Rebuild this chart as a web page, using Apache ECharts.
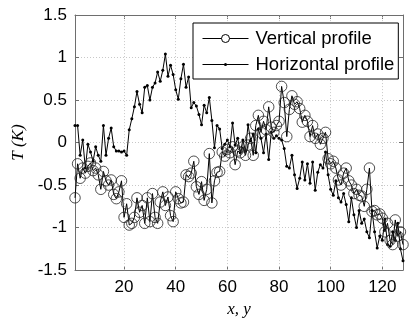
<!DOCTYPE html>
<html><head><meta charset="utf-8">
<script src="https://cdn.jsdelivr.net/npm/echarts@6/dist/echarts.min.js"></script>
<style>html,body{margin:0;padding:0;background:#fff}#c{width:411px;height:323px}</style>
</head><body><div id="c"></div>
<script>
const xTicks = [20, 40, 60, 80, 100, 120];
const yTicks = [-1.5, -1, -0.5, 0, 0.5, 1, 1.5];
const verticalProfile = [
 -0.65,-0.25,-0.42,-0.30,-0.36,-0.28,-0.24,-0.33,-0.30,-0.38,
 -0.55,-0.34,-0.45,-0.50,-0.44,-0.61,-0.66,-0.58,-0.45,-0.88,
 -0.72,-0.97,-0.95,-0.88,-0.65,-0.82,-0.74,-0.95,-0.65,-0.93,
 -0.60,-0.88,-0.95,-0.70,-0.58,-0.74,-0.64,-0.86,-0.93,-0.58,
 -0.66,-0.71,-0.70,-0.38,-0.40,-0.36,-0.22,-0.52,-0.61,-0.46,
 -0.68,-0.55,-0.13,-0.71,-0.45,-0.35,-0.34,-0.11,-0.16,-0.08,
 -0.12,-0.05,-0.26,-0.10,-0.12,-0.05,-0.15,-0.03,0.05,-0.15,
 0.20,0.32,0.12,0.25,0.15,0.42,0.18,0.12,0.20,0.25,
 0.66,0.47,0.07,0.39,0.55,0.45,0.48,0.40,0.24,0.32,
 0.25,0.07,0.20,0.05,0.10,-0.02,0.05,0.12,-0.19,-0.25,
 -0.22,-0.30,-0.44,-0.50,-0.36,-0.30,-0.45,-0.50,-0.60,-0.55,
 -0.62,-0.63,-0.75,-0.55,-0.30,-0.81,-0.80,-0.85,-0.84,-0.89,
 -1.05,-0.95,-1.15,-1.20,-0.91,-1.10,-1.05,-1.20
];
const horizontalProfile = [
 0.20,0.20,-0.15,0.03,-0.30,-0.02,-0.11,-0.22,-0.05,-0.15,
 -0.22,0.20,-0.15,0.05,0.17,-0.05,-0.10,-0.10,-0.11,-0.10,
 -0.15,0.15,0.28,0.42,0.60,0.45,0.35,0.65,0.67,0.50,
 0.65,0.70,0.83,0.72,0.85,1.04,0.78,0.91,0.80,0.62,
 0.51,0.75,0.92,0.65,0.77,0.41,0.47,0.43,0.33,0.21,
 0.44,0.35,0.53,0.26,-0.06,0.20,0.16,-0.07,-0.02,0.03,
 -0.05,0.23,-0.03,0.05,-0.12,0.03,-0.10,0.21,0.02,0.10,
 -0.12,0.16,0.05,-0.12,0.10,-0.20,0.12,0.05,0.08,0.05,
 0.03,-0.07,-0.28,-0.30,-0.15,-0.38,-0.54,-0.42,-0.23,-0.44,
 -0.25,-0.48,-0.23,-0.56,-0.35,-0.26,-0.30,-0.11,-0.38,-0.55,
 -0.62,-0.45,-0.65,-0.70,-0.60,-0.73,-0.93,-0.65,-0.85,-1.00,
 -0.80,-0.95,-0.90,-1.05,-1.12,-0.80,-1.05,-1.24,-1.10,-1.15,
 -0.90,-1.20,-1.22,-1.05,-1.15,-0.95,-1.25,-1.39
];
const seriesNames = ['Vertical profile', 'Horizontal profile'];

const vData = verticalProfile.map((v, i) => [i + 1, v]);
const hData = horizontalProfile.map((v, i) => [i + 1, v]);

const axisCol = '#6e6e6e';
const gridStyle = {color: '#c8c8c8', type: [1, 2], width: 1};
const tickFont = {fontFamily: 'Liberation Sans, Arial', fontSize: 17, color: '#000'};
const nameFont = {fontFamily: 'Liberation Serif, Times New Roman', fontStyle: 'italic', fontSize: 17, color: '#000'};
const chart = echarts.init(document.getElementById('c'));
chart.setOption({
  animation: false,
  grid: {left: 75, right: 8, top: 15, bottom: 51, containLabel: false},
  legend: {
    orient: 'vertical', left: 193, top: 23,
    data: [
      {name: seriesNames[0], itemStyle: {color: '#fff', borderColor: '#000', borderWidth: 1},
       lineStyle: {width: 1, color: '#000'}},
      {name: seriesNames[1], icon: 'path://M0,0 M0,4.6 L46,4.6 L46,5.4 L0,5.4 Z M21.5,5 A1.5,1.5 0 1 1 24.5,5 A1.5,1.5 0 1 1 21.5,5 Z M46,10',
       itemStyle: {color: '#000', borderWidth: 0}}
    ],
    lineStyle: {width: 1},
    itemWidth: 46, itemHeight: 10, itemGap: 7,
    padding: [6, 4, 5, 9],
    borderColor: '#000', borderWidth: 1, backgroundColor: '#fff',
    textStyle: {fontFamily: 'Liberation Sans, Arial', fontSize: 18.5, color: '#000', padding: [0, 0, 0, 2]}
  },
  xAxis: [{
    type: 'value', min: 1, max: 128, position: 'bottom',
    axisLine: {onZero: false, lineStyle: {color: axisCol}},
    axisTick: {inside: true, length: 4, customValues: xTicks, lineStyle: {color: axisCol}},
    axisLabel: Object.assign({margin: 9, customValues: xTicks}, tickFont),
    splitLine: {show: false},
    name: 'x, y', nameLocation: 'middle', nameGap: 19,
    nameTextStyle: nameFont
  }, {
    type: 'value', min: 1, max: 128, position: 'top',
    axisLine: {onZero: false, lineStyle: {color: axisCol}},
    axisTick: {inside: true, length: 4, customValues: xTicks, lineStyle: {color: axisCol}},
    axisLabel: {show: false}, splitLine: {show: false}
  }],
  yAxis: [{
    type: 'value', min: -1.5, max: 1.5, interval: 0.5, position: 'left',
    axisLine: {show: true, onZero: false, lineStyle: {color: axisCol}},
    axisTick: {show: true, inside: true, length: 4, lineStyle: {color: axisCol}},
    axisLabel: Object.assign({margin: 8, formatter: v => String(v)}, tickFont),
    splitLine: {show: true, lineStyle: gridStyle},
    name: 'T (K)', nameLocation: 'middle', nameGap: 46, nameRotate: 90,
    nameTextStyle: nameFont
  }, {
    type: 'value', min: -1.5, max: 1.5, interval: 0.5, position: 'right',
    axisLine: {show: true, onZero: false, lineStyle: {color: axisCol}},
    axisTick: {show: true, inside: true, length: 4, lineStyle: {color: axisCol}},
    axisLabel: {show: false}, splitLine: {show: false}
  }],
  series: [{
    name: seriesNames[0], type: 'line', data: vData,
    symbol: 'circle', symbolSize: 10.5, showAllSymbol: true,
    lineStyle: {color: '#000', width: 1},
    itemStyle: {color: 'rgba(255,255,255,0)', borderColor: '#222', borderWidth: 0.8},
    z: 3
  }, {
    name: seriesNames[1], type: 'line', data: hData,
    symbol: 'circle', symbolSize: 3, showAllSymbol: true,
    lineStyle: {color: '#000', width: 1},
    itemStyle: {color: '#000', borderWidth: 0},
    z: 2,
    markLine: {
      silent: true, symbol: 'none', label: {show: false},
      lineStyle: gridStyle, z: 1,
      data: xTicks.map(t => ({xAxis: t}))
    }
  }]
});
</script></body></html>
